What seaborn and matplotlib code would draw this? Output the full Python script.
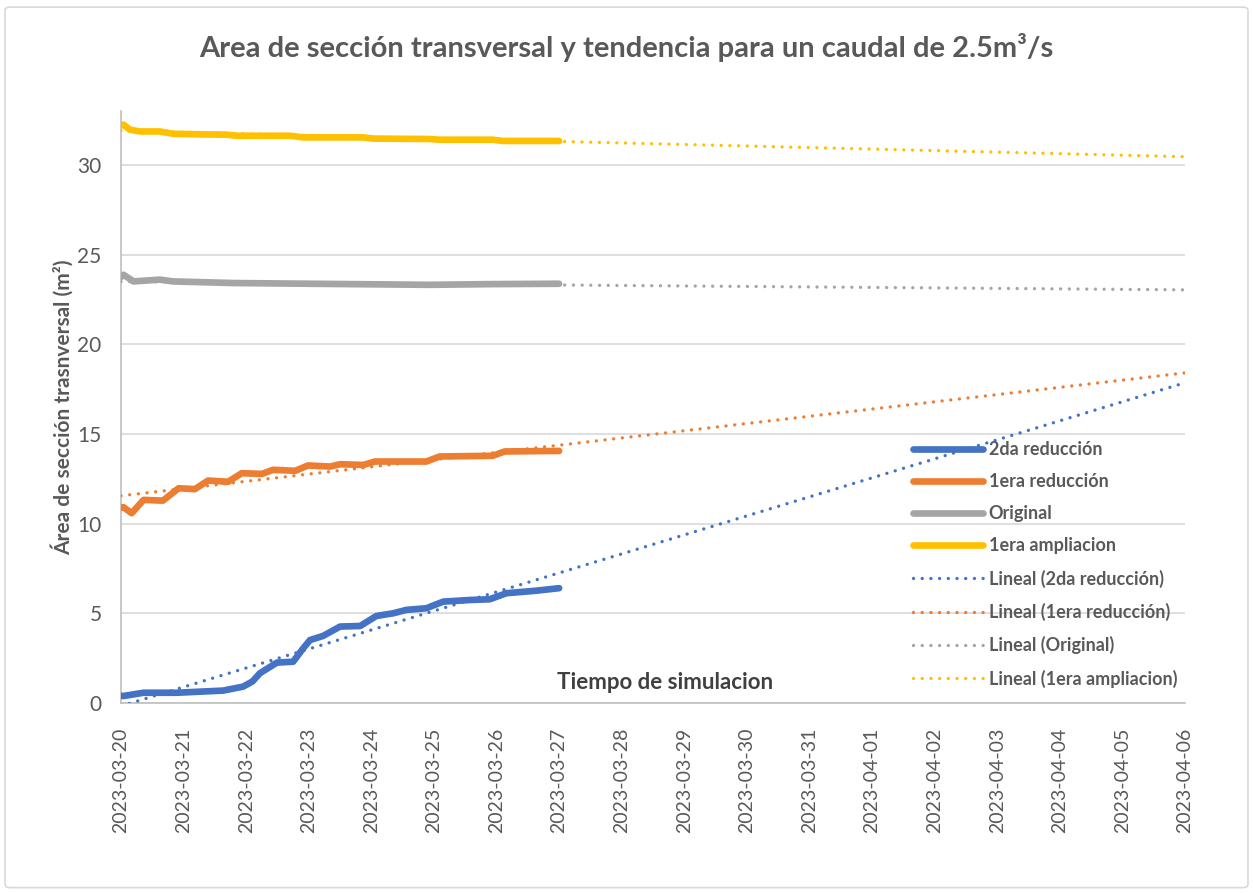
import pandas as pd
import numpy as np
import matplotlib
matplotlib.use("Agg")
import matplotlib.pyplot as plt
import matplotlib.dates as mdates
from matplotlib.patches import FancyBboxPatch
import seaborn as sns

start = pd.Timestamp("2023-03-20")
end = pd.Timestamp("2023-04-06")

# days since start
red2_days = [0.0, 0.04, 0.36, 0.89, 1.63, 1.95, 2.1, 2.22, 2.49, 2.75, 2.9, 3.02, 3.23, 3.50, 3.82, 4.08, 4.35, 4.56, 4.88, 5.0, 5.15, 5.57, 5.89, 6.16, 6.64, 7.0]
red2_vals = [0.40, 0.39, 0.57, 0.57, 0.69, 0.91, 1.2, 1.66, 2.25, 2.30, 3.0, 3.51, 3.74, 4.26, 4.29, 4.85, 5.00, 5.19, 5.28, 5.45, 5.65, 5.74, 5.78, 6.12, 6.26, 6.40]

red1_days = [0.0, 0.04, 0.17, 0.36, 0.67, 0.92, 1.18, 1.39, 1.71, 1.93, 2.25, 2.43, 2.78, 2.99, 3.34, 3.50, 3.87, 4.06, 4.88, 5.09, 5.94, 6.13, 7.0]
red1_vals = [10.9, 10.91, 10.58, 11.32, 11.28, 11.97, 11.92, 12.40, 12.33, 12.81, 12.77, 13.00, 12.94, 13.24, 13.18, 13.31, 13.27, 13.46, 13.46, 13.74, 13.78, 14.02, 14.05]

orig_days = [0.0, 0.04, 0.2, 0.62, 0.83, 1.79, 3.02, 4.93, 5.94, 7.0]
orig_vals = [23.75, 23.87, 23.50, 23.60, 23.50, 23.41, 23.37, 23.31, 23.35, 23.37]

amp_days = [0.0, 0.04, 0.14, 0.3, 0.62, 0.83, 1.26, 1.69, 1.85, 2.7, 2.91, 3.87, 4.03, 4.93, 5.09, 5.94, 6.1, 7.0]
amp_vals = [32.2, 32.24, 31.96, 31.86, 31.86, 31.73, 31.70, 31.68, 31.62, 31.62, 31.53, 31.53, 31.46, 31.44, 31.40, 31.40, 31.33, 31.33]

# linear trend values at start and end of the axis
trend_days = [0, 17]
red2_trend = [-0.17, 17.85]
red1_trend = [11.55, 18.40]
orig_trend = [23.49, 23.03]
amp_trend = [31.90, 30.45]

names = ["2da reducción", "1era reducción", "Original", "1era ampliacion"]
colors = ["#4472C4", "#ED7D31", "#A5A5A5", "#FFC000"]

sns.set_style("white")
plt.rcParams["font.family"] = ["Lato", "DejaVu Sans"]

fig = plt.figure(figsize=(12.53, 8.93), dpi=100)
ax = fig.add_axes([0.0966, 0.2128, 0.8491, 0.6629])

fig.patches.append(FancyBboxPatch((0.004, 0.006), 0.992, 0.986, boxstyle="round,pad=0,rounding_size=0.004",
                                  transform=fig.transFigure, facecolor="none", edgecolor="#d9d9d9", lw=1.2))

def to_dates(days):
    return start + pd.to_timedelta(np.array(days, dtype=float), unit="D")

series = [(red2_days, red2_vals), (red1_days, red1_vals), (orig_days, orig_vals), (amp_days, amp_vals)]
for (d, v), n, c in zip(series, names, colors):
    sns.lineplot(x=to_dates(d), y=v, ax=ax, color=c, lw=4.8, label=n,
                 solid_capstyle="round", solid_joinstyle="round", zorder=3)

trends = [red2_trend, red1_trend, orig_trend, amp_trend]
for t, n, c in zip(trends, names, colors):
    sns.lineplot(x=to_dates(trend_days), y=t, ax=ax, color=c, lw=2.4, label=f"Lineal ({n})",
                 linestyle=(0, (0.01, 2.6)), dash_capstyle="round", zorder=4)

ax.set_xlim(start, end)
ax.set_ylim(0, 33)
ax.set_yticks([0, 5, 10, 15, 20, 25, 30])
ax.xaxis.set_major_locator(mdates.DayLocator())
ax.xaxis.set_major_formatter(mdates.DateFormatter("%Y-%m-%d"))
ax.tick_params(axis="x", rotation=90, labelsize=14, colors="#595959", length=0, pad=18)
ax.tick_params(axis="y", labelsize=15, colors="#595959", length=0, pad=14)
ax.grid(axis="y", color="#d9d9d9", lw=1.2)
ax.grid(axis="x", visible=False)
for s in ["top", "right"]:
    ax.spines[s].set_visible(False)
ax.spines["left"].set_color("#bfbfbf")
ax.spines["bottom"].set_color("#bfbfbf")
ax.spines["left"].set_linewidth(1.2)
ax.spines["bottom"].set_linewidth(1.2)

fig.text(0.5, 0.947, "Area de sección transversal y tendencia para un caudal de 2.5m³/s",
         fontsize=21, fontweight="bold", color="#595959", ha="center", va="center")
ax.set_ylabel("Área de sección trasnversal (m²)", fontsize=15, fontweight="bold", color="#595959")
ax.yaxis.set_label_coords(-0.044, 0.5)
ax.set_xlabel("Tiempo de simulacion", fontsize=16, fontweight="bold", color="#404040")
ax.xaxis.set_label_coords(0.511, 0.052)

leg = ax.legend(loc="upper left", bbox_to_anchor=(0.729, 0.470), frameon=False,
                prop={"family": ["Lato", "DejaVu Sans"], "weight": "bold", "size": 13},
                handlelength=3.9, labelspacing=0.84, handletextpad=0.3)
for t in leg.get_texts():
    t.set_color("#595959")

fig.savefig("out.png", dpi=100)
